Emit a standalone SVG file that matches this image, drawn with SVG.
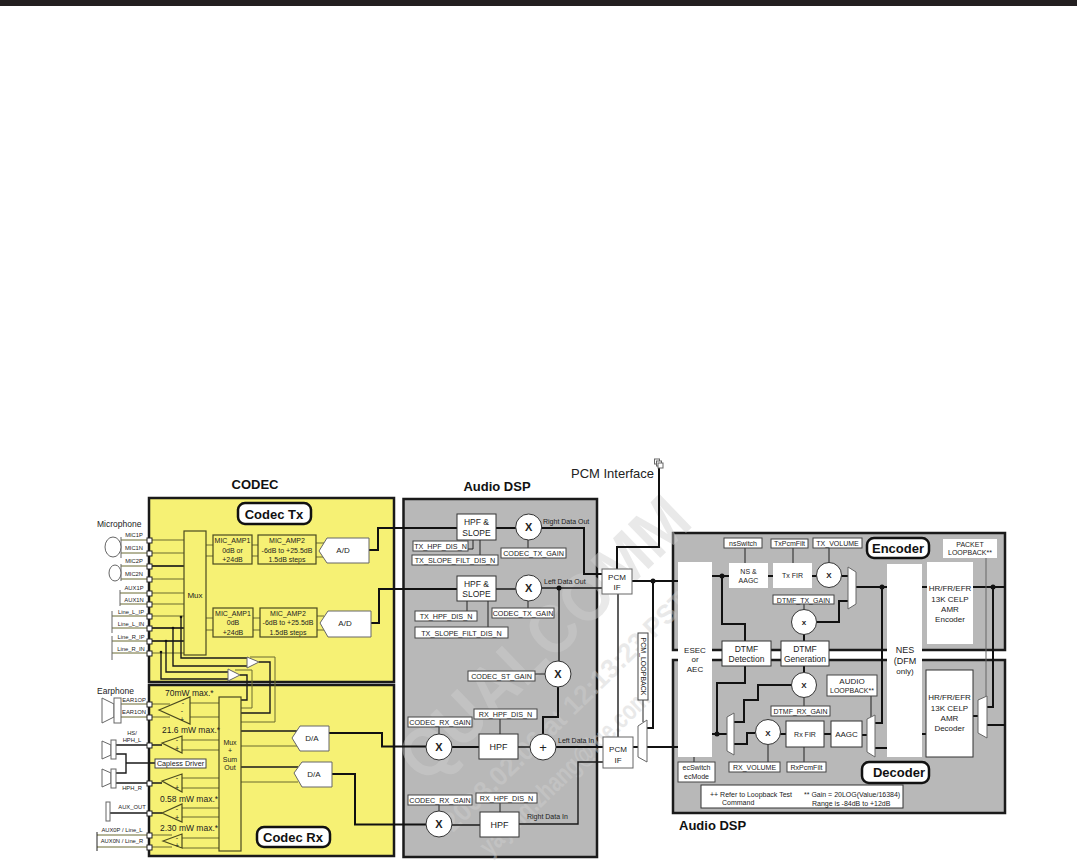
<svg xmlns="http://www.w3.org/2000/svg" width="1077" height="863" viewBox="0 0 1077 863">
<style>
text{font-family:"Liberation Sans",Arial,sans-serif;fill:#222}
.c{text-anchor:middle}
.t{font-size:8.500px}.s{font-size:8px}.xs{font-size:7px}.b{font-size:13px;font-weight:bold;fill:#111}
.l{font-size:7.200px}.p{font-size:5.800px}.a7{font-size:7px}.h{font-size:8.500px}.f{font-size:9px}.sg{font-size:7px}
.x{font-size:11px;font-weight:bold}
.panel{stroke:#1a1a1a;stroke-width:2.500}
.y{fill:#f6f174}.g{fill:#b8b8b8}
.n{fill:#fff;stroke:#666;stroke-width:1}
.ny{fill:#f6f174;stroke:#4a4a20;stroke-width:1.200}
.k{fill:#fff;stroke:#333;stroke-width:1}
.lbl{fill:#fff;stroke:#444;stroke-width:1}
.tag{fill:#fff;stroke:#111;stroke-width:2.500}
.w{fill:none;stroke:#222;stroke-width:1}
.w2{fill:none;stroke:#666;stroke-width:1}
.m{fill:none;stroke:#1a1a1a;stroke-width:1.400}
.o{fill:none;stroke:#6a6a30;stroke-width:1}
.a{fill:none;stroke:#111;stroke-width:2}
.dot{fill:#111}
.pin{fill:#fff;stroke:#222;stroke-width:1}
.wm{font-family:"Liberation Sans",Arial,sans-serif;font-weight:bold;fill:#cfcfcf;opacity:.45}
</style>
<rect x="0" y="0" width="1077" height="6" fill="#231f20"/>
<g id="panels">
<rect class="panel y" x="149" y="498" width="245" height="184"/>
<rect class="panel y" x="149" y="685" width="245" height="171"/>
<rect class="panel g" x="403.500" y="499" width="193.500" height="358"/>
<rect class="panel g" x="673" y="533" width="332" height="117"/>
<rect class="panel g" x="673" y="660" width="332" height="153"/>
</g>
<g id="watermark">
<text class="wm" transform="translate(425,785) rotate(-44)" font-size="68" textLength="375" lengthAdjust="spacingAndGlyphs">QUALCOMM</text>
<text class="wm" transform="translate(453,833) rotate(-44)" font-size="27" textLength="330" lengthAdjust="spacingAndGlyphs">2008.02.06 at 12:13:23 PST</text>
<text class="wm" transform="translate(490,857) rotate(-44)" font-size="27" textLength="225" lengthAdjust="spacingAndGlyphs">yaying.zhang@lge.com</text>
</g>
<g id="titles">
<text class="b c" x="255" y="489">CODEC</text>
<text class="b c" x="497" y="491">Audio DSP</text>
<text class="b" x="679" y="830">Audio DSP</text>
<text x="571" y="478" font-size="13">PCM Interface</text>
<text x="97" y="527" class="t">Microphone</text>
<text x="97" y="694" class="t">Earphone</text>
</g>
<g id="connectors">
<path class="o" d="M121 540H184M121 553H184M121 566H184M121 579H184M120 593H184M120 604H184M112 616H184M112 628H184M112 641H184M112 653H184"/>
<path class="m" d="M150 566H184M150 628H184M150 641H184"/>
<path class="w2" d="M121 537V558M121 564V581M120 590V606M112 611V633M112 636V660"/>
<path class="o" d="M206 545H213M206 556H213M252 545H258M252 556H258M316 543H324M316 557H324M206 618H213M206 630H213M253 618H260M253 630H260M317 616H324M317 630H324"/>
<path class="a" d="M369 550H378V528H457M371 623H379V589H457"/>
<path class="m" d="M181 617V658H247M173 628V666H247M166 641V672H228M161 652V679H228"/>
<path class="m" d="M259 662H270V713H241M240 675H247V700H241"/>
<path class="o" d="M250 657H275V722H241M235 670H252V708H241"/>
<circle class="dot" cx="181" cy="617" r="1.300"/><circle class="dot" cx="173" cy="628" r="1.300"/><circle class="dot" cx="166" cy="641" r="1.300"/><circle class="dot" cx="161" cy="652" r="1.300"/>
<path class="o" d="M121 704H170M121 717H170M190 703H219M190 717H219M182 740H219M182 750H219M182 778H219M182 788H219M182 808H219M182 817H219M182 838H219M182 848H219M241 746H298M241 782H298"/>
<path class="o" d="M97 835H172M97 847H172"/>
<path class="w" d="M97 832V851"/>
<path class="m" d="M116 745H162M116 754H126V773H116M126 763H155M116 783H162M110 813H162M241 731H298M241 767H298"/>
<path class="a" d="M329 733H382V746.500H426M332 774H355V824.500H426"/>
<path class="a" d="M496 528H516M541 528H584V574H602"/>
<path class="m" d="M496 589H516M541 588H602"/>
<path class="m" d="M559 588V661"/>
<path class="a" d="M558 687V717H543V734"/>
<circle class="dot" cx="559" cy="588" r="2.500"/>
<path class="w" d="M473 540V549H468M480 540V555M528 540V548M467 601V611M488 601V627M528 601V608M535 674H545M500 719V734M439 727V734M500 803V812M439 805V811"/>
<path class="a" d="M452 747H479"/>
<path class="m" d="M518 747H530M452 825H480"/>
<path class="a" d="M556 747H603"/>
<path class="m" d="M519 824H578V762H603"/>
<path class="a" d="M617 569V547H659V463"/>
<path class="m" d="M618 594V737"/>
<path class="a" d="M632 581H678M653 581V728H647M633 747H638M647 747H678"/>
<circle class="dot" cx="653" cy="581" r="2.500"/>
<path class="w" d="M643 700V722"/>
<path class="a" d="M712 576H729M722 576V624H745V641"/>
<circle class="dot" cx="722" cy="576" r="2.500"/>
<path class="a" d="M768 576H773M812 576H817M841 576H848"/>
<path class="a" d="M856 587H887M922 587H1005M817 622H839V601H848M882 587V723H875"/>
<circle class="dot" cx="882" cy="587" r="2.500"/>
<path class="a" d="M993 587V707H987"/>
<circle class="dot" cx="993" cy="587" r="2.500"/>
<path class="w" d="M745 548V563M793 548V563M829 548V563M804 604V610M804 698V706M871 696V717M694 757V762M768 745V762M804 747V762"/>
<path class="w2" d="M986 558V697"/>
<path class="a" d="M804 634V641M804 666V672"/>
<path class="a" d="M745 666V683H717V734M712 734H727M792 685H758V700H744V722H734M755 733H747V744H734M780 734H786M824 734H831M862 735H867M875 748H887M922 734H926M973 716H978M987 725H1005"/>
<circle class="dot" cx="717" cy="734" r="2.500"/>
</g>
<g id="ext-symbols">
<ellipse class="n" cx="113" cy="547" rx="8" ry="10"/>
<ellipse class="n" cx="115" cy="573" rx="6" ry="8"/>
<polygon class="n" points="102,698 114,704 114,717 102,723"/><rect class="n" x="114" y="698" width="7" height="25"/>
<polygon class="n" points="102,741 111,745 111,755 102,759"/><rect class="n" x="111" y="740" width="5" height="19"/>
<polygon class="n" points="102,769 111,773 111,783 102,787"/><rect class="n" x="111" y="769" width="5" height="19"/>
<rect class="n" x="106" y="802" width="4" height="19"/>
</g>
<g id="pin-labels">
<text class="p c" x="134" y="537">MIC1P</text><text class="p c" x="134" y="550">MIC1N</text><text class="p c" x="134" y="563">MIC2P</text><text class="p c" x="134" y="576">MIC2N</text><text class="p c" x="134" y="590">AUX1P</text><text class="p c" x="134" y="602">AUX1N</text><text class="p c" x="131" y="614">Line_L_IP</text><text class="p c" x="131" y="626">Line_L_IN</text><text class="p c" x="131" y="639">Line_R_IP</text><text class="p c" x="131" y="651">Line_R_IN</text>
<text class="p c" x="134" y="702">EAR1OP</text><text class="p c" x="134" y="714">EAR1ON</text><text class="p c" x="132" y="735">HS/</text><text class="p c" x="132" y="742">HPH_L</text><text class="p c" x="132" y="790">HPH_R</text><text class="p c" x="132" y="809">AUX_OUT</text><text class="p c" x="122" y="832">AUX0P / Line_L</text><text class="p c" x="122" y="843">AUX0N / Line_R</text>
</g>
<g id="pins">
<rect class="pin" x="147" y="538" width="5" height="5"/><rect class="pin" x="147" y="551" width="5" height="5"/><rect class="pin" x="147" y="564" width="5" height="5"/><rect class="pin" x="147" y="577" width="5" height="5"/><rect class="pin" x="147" y="591" width="5" height="5"/><rect class="pin" x="147" y="602" width="5" height="5"/><rect class="pin" x="147" y="614" width="5" height="5"/><rect class="pin" x="147" y="626" width="5" height="5"/><rect class="pin" x="147" y="639" width="5" height="5"/><rect class="pin" x="147" y="651" width="5" height="5"/>
<rect class="pin" x="147" y="702" width="5" height="5"/><rect class="pin" x="147" y="715" width="5" height="5"/><rect class="pin" x="147" y="743" width="5" height="5"/><rect class="pin" x="147" y="781" width="5" height="5"/><rect class="pin" x="147" y="811" width="5" height="5"/><rect class="pin" x="147" y="833" width="5" height="5"/><rect class="pin" x="147" y="845" width="5" height="5"/>
</g>
<g id="codec-tx-tag"><rect class="tag" x="238" y="503" width="73" height="21" rx="7"/><text class="b c" x="274" y="519">Codec Tx</text></g>
<g id="mux-tx"><rect class="ny" x="184" y="531" width="22" height="124"/><text class="s c" x="195" y="598">Mux</text></g>
<g id="mic-amp1-a"><rect class="ny" x="213" y="535" width="39" height="29"/><text class="a7 c" x="232.500" y="543">MIC_AMP1</text><text class="a7 c" x="232.500" y="552.500">0dB or</text><text class="a7 c" x="232.500" y="561.500">+24dB</text></g>
<g id="mic-amp2-a"><rect class="ny" x="258" y="535" width="58" height="29"/><text class="a7 c" x="287" y="543">MIC_AMP2</text><text class="a7 c" x="287" y="552.500">-6dB to +25.5dB</text><text class="a7 c" x="287" y="561.500">1.5dB steps</text></g>
<g id="ad-a"><polygon class="n" points="319,551 327,538 369,538 369,563 327,563"/><text class="s c" x="343" y="553">A/D</text></g>
<g id="mic-amp1-b"><rect class="ny" x="213" y="608" width="40" height="29"/><text class="a7 c" x="233" y="616">MIC_AMP1</text><text class="a7 c" x="233" y="625">0dB</text><text class="a7 c" x="233" y="634.500">+24dB</text></g>
<g id="mic-amp2-b"><rect class="ny" x="260" y="608" width="57" height="29"/><text class="a7 c" x="288" y="616">MIC_AMP2</text><text class="a7 c" x="288" y="625">-6dB to +25.5dB</text><text class="a7 c" x="288" y="634.500">1.5dB steps</text></g>
<g id="ad-b"><polygon class="n" points="320,623 328,611 371,611 371,637 328,637"/><text class="s c" x="345" y="626">A/D</text></g>
<g id="loop-amps">
<polygon class="n" points="247,657 247,668 259,662"/><polygon class="n" points="228,669 228,681 240,675"/>
</g>
<g id="mux-rx"><rect class="ny" x="219" y="697" width="22" height="154"/><text class="a7 c" x="230" y="745">Mux</text><text class="a7 c" x="230" y="753">+</text><text class="a7 c" x="230" y="762">Sum</text><text class="a7 c" x="230" y="770">Out</text></g>
<g id="rx-amps">
<polygon class="ny" points="159,710 190,697 190,724"/><text class="sg c" x="183" y="705">-</text><text class="sg c" x="182" y="713">-</text><text class="sg c" x="182" y="722">+</text>
<polygon class="ny" points="162,743 182,736 182,753"/><text class="sg c" x="177" y="742">-</text><text class="sg c" x="177" y="751">+</text>
<polygon class="ny" points="162,781 182,774 182,792"/><text class="sg c" x="177" y="780">-</text><text class="sg c" x="177" y="790">+</text>
<polygon class="ny" points="162,813 182,804 182,822"/><text class="sg c" x="177" y="811">-</text><text class="sg c" x="177" y="820">+</text>
<polygon class="ny" points="163,841 182,834 182,848"/><text class="sg c" x="177" y="840">-</text><text class="sg c" x="177" y="848">+</text>
<text class="t" x="165" y="696">70mW max.*</text><text class="t" x="162" y="733">21.6 mW max.*</text><text class="t" x="160" y="802">0.58 mW max.*</text><text class="t" x="160" y="831">2.30 mW max.*</text>
</g>
<g id="capless"><rect class="lbl" x="155" y="759" width="51" height="9"/><text class="l c" x="180.500" y="766">Capless Driver</text></g>
<g id="da-a"><polygon class="n" points="292,738 300,726 329,726 329,751 300,751"/><text class="s c" x="312" y="741">D/A</text></g>
<g id="da-b"><polygon class="n" points="294,773 302,762 332,762 332,787 302,787"/><text class="s c" x="314" y="777">D/A</text></g>
<g id="codec-rx-tag"><rect class="tag" x="257" y="827" width="73" height="20" rx="7"/><text class="b c" x="293" y="842">Codec Rx</text></g>
<g id="hpf-slope-1"><rect class="k" x="457" y="514" width="39" height="26"/><text class="h c" x="476.500" y="525">HPF &amp;</text><text class="h c" x="476.500" y="536">SLOPE</text></g>
<g id="hpf-slope-2"><rect class="k" x="457" y="576" width="39" height="25"/><text class="h c" x="476.500" y="587">HPF &amp;</text><text class="h c" x="476.500" y="597">SLOPE</text></g>
<g id="dsp-labels">
<rect class="lbl" x="413" y="541" width="55" height="10"/><text class="l c" x="440.500" y="549">TX_HPF_DIS_N</text>
<rect class="lbl" x="412" y="555" width="86" height="10"/><text class="l c" x="455" y="563">TX_SLOPE_FILT_DIS_N</text>
<rect class="lbl" x="501" y="548" width="65" height="10"/><text class="l c" x="533.500" y="556">CODEC_TX_GAIN</text>
<rect class="lbl" x="415" y="611" width="62" height="10"/><text class="l c" x="446" y="619">TX_HPF_DIS_N</text>
<rect class="lbl" x="415" y="627" width="93" height="11"/><text class="l c" x="461.500" y="635.500">TX_SLOPE_FILT_DIS_N</text>
<rect class="lbl" x="492" y="608" width="62" height="10"/><text class="l c" x="523" y="616">CODEC_TX_GAIN</text>
<rect class="lbl" x="468" y="671" width="67" height="10"/><text class="l c" x="501.500" y="679">CODEC_ST_GAIN</text>
<rect class="lbl" x="474" y="709" width="63" height="10"/><text class="l c" x="505.500" y="717">RX_HPF_DIS_N</text>
<rect class="lbl" x="408" y="717" width="64" height="10"/><text class="l c" x="440" y="725">CODEC_RX_GAIN</text>
<rect class="lbl" x="476" y="793" width="61" height="10"/><text class="l c" x="506.500" y="801">RX_HPF_DIS_N</text>
<rect class="lbl" x="408" y="795" width="64" height="10"/><text class="l c" x="440" y="803">CODEC_RX_GAIN</text>
<text class="xs" x="543" y="524">Right Data Out</text><text class="xs" x="544" y="584">Left Data Out</text><text class="xs" x="558" y="743">Left Data In</text><text class="xs" x="527" y="819">Right Data  In</text>
</g>
<g id="mult-1"><circle class="k" cx="528.700" cy="527" r="13"/><text class="x c" x="528.700" y="531">X</text></g>
<g id="mult-2"><circle class="k" cx="528.700" cy="588" r="13"/><text class="x c" x="528.700" y="592">X</text></g>
<g id="mult-st"><circle class="k" cx="558" cy="674" r="13"/><text class="x c" x="558" y="678">X</text></g>
<g id="mult-rx1"><circle class="k" cx="439" cy="747" r="13"/><text class="x c" x="439" y="751">X</text></g>
<g id="mult-rx2"><circle class="k" cx="439" cy="824" r="13"/><text class="x c" x="439" y="828">X</text></g>
<g id="sum"><circle class="k" cx="543" cy="747" r="13"/><text class="c" font-size="13" x="543" y="751.500">+</text></g>
<g id="hpf-rx1"><rect class="k" x="479" y="734" width="39" height="25"/><text class="f c" x="498.500" y="750">HPF</text></g>
<g id="hpf-rx2"><rect class="k" x="480" y="812" width="39" height="25"/><text class="f c" x="499.500" y="828">HPF</text></g>
<g id="pcm-if-1"><rect class="n" x="602" y="569" width="30" height="25"/><text class="s c" x="617" y="580">PCM</text><text class="s c" x="617" y="590">IF</text></g>
<g id="pcm-if-2"><rect class="n" x="603" y="737" width="30" height="31"/><text class="s c" x="618" y="752">PCM</text><text class="s c" x="618" y="763">IF</text></g>
<g id="pcm-mux"><polygon class="n" points="638,726 647,720 647,762 638,757"/></g>
<g id="pcm-loopback"><rect class="lbl" x="638" y="633" width="10" height="67"/><text class="xs c" transform="translate(640.500,666.500) rotate(90)">PCM_LOOPBACK</text></g>
<g id="pcm-icon"><rect class="n" x="654.500" y="459" width="5" height="5"/><rect class="n" x="656.500" y="461" width="5" height="5"/><rect class="n" x="658" y="463" width="5" height="5"/></g>
<g id="esec"><rect x="678" y="562" width="34" height="195" fill="#fff"/><text class="s c" x="695" y="653">ESEC</text><text class="s c" x="695" y="662">or</text><text class="s c" x="695" y="672">AEC</text></g>
<g id="nes"><rect x="887" y="564" width="35" height="193" fill="#fff"/><text class="f c" x="905" y="653">NES</text><text class="f c" x="905" y="664">(DFM</text><text class="s c" x="905" y="674">only)</text></g>
<g id="dtmf-det"><rect class="k" x="722" y="641" width="49" height="25"/><text class="h c" x="746.500" y="652">DTMF</text><text class="h c" x="746.500" y="662">Detection</text></g>
<g id="dtmf-gen"><rect class="k" x="781" y="641" width="48" height="25"/><text class="h c" x="805" y="652">DTMF</text><text class="h c" x="805" y="662">Generation</text></g>
<g id="ns-aagc"><rect fill="#fff" x="729" y="563" width="39" height="25"/><text class="xs c" x="748.500" y="574">NS &amp;</text><text class="xs c" x="748.500" y="583">AAGC</text></g>
<g id="tx-fir"><rect fill="#fff" x="773" y="563" width="39" height="25"/><text class="xs c" x="792.500" y="578">Tx FIR</text></g>
<g id="tx-x"><circle class="k" cx="829" cy="575" r="12.500"/><text class="s c" font-weight="bold" x="829" y="578">X</text></g>
<g id="tx-mux"><polygon class="n" points="848,567 856,572 856,604 848,609"/></g>
<g id="hr-enc"><rect fill="#fff" x="927" y="562" width="46" height="82"/><text class="s c" x="950" y="591">HR/FR/EFR</text><text class="s c" x="950" y="602">13K CELP</text><text class="s c" x="950" y="612">AMR</text><text class="s c" x="950" y="622">Encoder</text></g>
<g id="enc-labels">
<rect class="lbl" x="724" y="538" width="38" height="10"/><text class="xs c" x="743" y="546">nsSwitch</text>
<rect class="lbl" x="771" y="539" width="37" height="9"/><text class="xs c" x="789.500" y="546">TxPcmFilt</text>
<rect class="lbl" x="813" y="538" width="49" height="10"/><text class="xs c" x="837.500" y="546">TX_VOLUME</text>
<rect class="lbl" x="773" y="595" width="61" height="9"/><text class="xs c" x="803.500" y="602.500">DTMF_TX_GAIN</text>
<rect fill="#fff" x="943" y="539" width="54" height="19"/><text class="xs c" x="970" y="546.500">PACKET</text><text class="xs c" x="970" y="555">LOOPBACK**</text>
</g>
<g id="encoder-tag"><rect class="tag" x="867" y="538" width="62" height="20" rx="7"/><text class="b c" x="898" y="553">Encoder</text></g>
<g id="dtmf-tx-x"><circle class="k" cx="804" cy="622" r="12.500"/><text class="s c" font-weight="bold" x="804" y="625">x</text></g>
<g id="dtmf-rx-x"><circle class="k" cx="804" cy="685" r="12.500"/><text class="s c" font-weight="bold" x="804" y="688">X</text></g>
<g id="dec-labels">
<rect class="lbl" x="771" y="706" width="59" height="10"/><text class="xs c" x="800.500" y="714">DTMF_RX_GAIN</text>
<rect class="lbl" x="827" y="675" width="50" height="21"/><text class="s c" x="852" y="684">AUDIO</text><text class="xs c" x="852" y="693">LOOPBACK**</text>
<rect class="lbl" x="729" y="762" width="51" height="10"/><text class="xs c" x="754.500" y="770">RX_VOLUME</text>
<rect class="lbl" x="787" y="762" width="39" height="10"/><text class="xs c" x="806.500" y="770">RxPcmFilt</text>
<rect class="lbl" x="678" y="762" width="37" height="20"/><text class="xs c" x="696.500" y="770">ecSwitch</text><text class="xs c" x="696.500" y="779">ecMode</text>
</g>
<g id="dec-mux-l"><polygon class="n" points="727,717 734,713 734,755 727,751"/></g>
<g id="rx-x"><circle class="k" cx="768" cy="732" r="12.500"/><text class="s c" font-weight="bold" x="768" y="736">X</text></g>
<g id="rx-fir"><rect class="k" x="786" y="721" width="38" height="26"/><text class="xs c" x="805" y="736.500">Rx FIR</text></g>
<g id="aagc"><rect class="k" x="831" y="721" width="31" height="26"/><text class="s c" x="846.500" y="737">AAGC</text></g>
<g id="dec-mux-r"><polygon class="n" points="867,719 875,715 875,757 867,752"/></g>
<g id="hr-dec"><rect class="k" x="926" y="670" width="47" height="87"/><text class="s c" x="949.500" y="700">HR/FR/EFR</text><text class="s c" x="949.500" y="711">13K CELP</text><text class="s c" x="949.500" y="721">AMR</text><text class="s c" x="949.500" y="731">Decoder</text></g>
<g id="dec-mux-out"><polygon class="n" points="978,700 987,696 987,738 978,733"/></g>
<g id="decoder-tag"><rect class="tag" x="862" y="762" width="67" height="21" rx="7"/><text class="b c" x="899" y="777">Decoder</text></g>
<g id="note"><rect class="k" x="701" y="785" width="202" height="23"/><text class="xs" x="710" y="797">++ Refer to Loopback Test</text><text class="xs" x="722" y="805">Command</text><text class="xs" x="804" y="797">** Gain = 20LOG(Value/16384)</text><text class="xs" x="812" y="806">Range is -84dB to +12dB</text></g>
</svg>
